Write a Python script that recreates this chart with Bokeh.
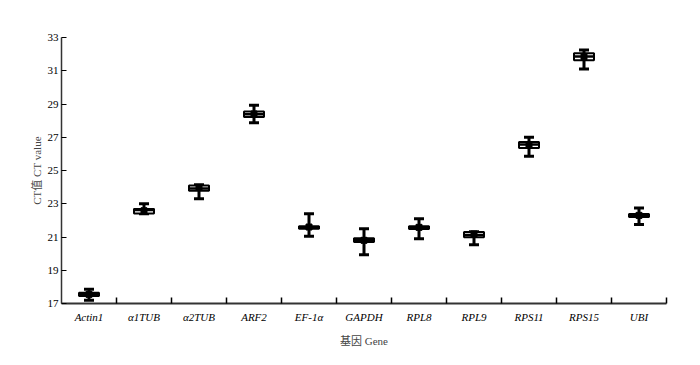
import numpy as np
from bokeh.plotting import figure
from bokeh.models import FixedTicker, Range1d, ColumnDataSource
from bokeh.embed import file_html
from bokeh.resources import INLINE

genes = ["Actin1", "α1TUB", "α2TUB", "ARF2", "EF-1α", "GAPDH", "RPL8", "RPL9", "RPS11", "RPS15", "UBI"]
mins = [17.20, 22.40, 23.30, 27.87, 21.05, 19.93, 20.90, 20.53, 25.85, 31.10, 21.75]
q1s = [17.45, 22.42, 23.78, 28.22, 21.50, 20.70, 21.48, 20.98, 26.35, 31.63, 22.20]
medians = [17.55, 22.62, 23.92, 28.38, 21.58, 20.82, 21.57, 21.12, 26.57, 31.85, 22.30]
q3s = [17.65, 22.68, 24.10, 28.55, 21.65, 20.93, 21.65, 21.30, 26.72, 32.05, 22.38]
maxs = [17.85, 23.00, 24.15, 28.92, 22.40, 21.50, 22.10, 21.32, 27.00, 32.25, 22.75]
means = [17.55, 22.58, 23.98, 28.40, 21.60, 20.80, 21.58, 21.18, 26.55, 31.85, 22.30]
y_ticks = [17, 19, 21, 23, 25, 27, 29, 31, 33]

FONT = "Liberation Serif, Noto Sans CJK SC, serif"

x = np.arange(len(genes)) + 0.5
src = ColumnDataSource(dict(
    x=x, lo=mins, q1=q1s, med=medians, q3=q3s, hi=maxs, mean=means,
    mid=(np.array(q1s) + np.array(q3s)) / 2,
    h=np.array(q3s) - np.array(q1s),
))

p = figure(width=692, height=357, output_backend="svg", toolbar_location=None,
           x_range=Range1d(0, len(genes)), y_range=Range1d(17, 33),
           min_border_left=61, min_border_right=26, min_border_top=37, min_border_bottom=54)
p.outline_line_color = None
p.grid.visible = False
p.background_fill_color = "white"

# whiskers
p.segment(x0="x", x1="x", y0="lo", y1="q1", source=src, line_color="black", line_width=3)
p.segment(x0="x", x1="x", y0="q3", y1="hi", source=src, line_color="black", line_width=3)
# caps
p.scatter(x="x", y="lo", source=src, marker="dash", size=10, line_color="black", line_width=3)
p.scatter(x="x", y="hi", source=src, marker="dash", size=10, line_color="black", line_width=3)
# boxes
p.rect(x="x", y="mid", width=20, width_units="screen", height="h", source=src,
       fill_color="white", line_color="black", line_width=2)
# median
p.scatter(x="x", y="med", source=src, marker="dash", size=22, line_color="black", line_width=2.5)
# mean
p.scatter(x="x", y="mean", source=src, marker="square", size=6, fill_color="black", line_color="black")

# x axis
xt = FixedTicker(ticks=list(x), minor_ticks=list(range(1, len(genes) + 1)))
p.xaxis.ticker = xt
p.xaxis.major_label_overrides = {float(v): g for v, g in zip(x, genes)}
p.xaxis.major_tick_in = 0
p.xaxis.major_tick_out = 0
p.xaxis.minor_tick_in = 6
p.xaxis.minor_tick_out = 0
p.xaxis.minor_tick_line_color = "black"
p.xaxis.minor_tick_line_width = 1.5
p.xaxis.axis_line_color = "#333333"
p.xaxis.axis_line_width = 2
p.xaxis.major_label_text_font = FONT
p.xaxis.major_label_text_font_style = "italic"
p.xaxis.major_label_text_font_size = "11px"
p.xaxis.major_label_text_color = "black"
p.xaxis.major_label_standoff = 7
p.xaxis.axis_label = "基因 Gene"
p.xaxis.axis_label_text_font = FONT
p.xaxis.axis_label_text_font_style = "normal"
p.xaxis.axis_label_text_font_size = "11px"
p.xaxis.axis_label_text_color = "#444444"
p.xaxis.axis_label_standoff = 9

# y axis
p.yaxis.ticker = FixedTicker(ticks=y_ticks, minor_ticks=[])
p.yaxis.major_tick_in = 5
p.yaxis.major_tick_out = 0
p.yaxis.major_tick_line_color = "black"
p.yaxis.major_tick_line_width = 1.2
p.yaxis.axis_line_color = "#333333"
p.yaxis.axis_line_width = 1.5
p.yaxis.major_label_text_font = FONT
p.yaxis.major_label_text_font_size = "11px"
p.yaxis.major_label_text_color = "black"
p.yaxis.major_label_standoff = 3
p.yaxis.axis_label = "CT值 CT value"
p.yaxis.axis_label_text_font = FONT
p.yaxis.axis_label_text_font_style = "normal"
p.yaxis.axis_label_text_font_size = "11px"
p.yaxis.axis_label_text_color = "#444444"
p.yaxis.axis_label_standoff = 2

open("out.html", "w").write(file_html(p, INLINE))
